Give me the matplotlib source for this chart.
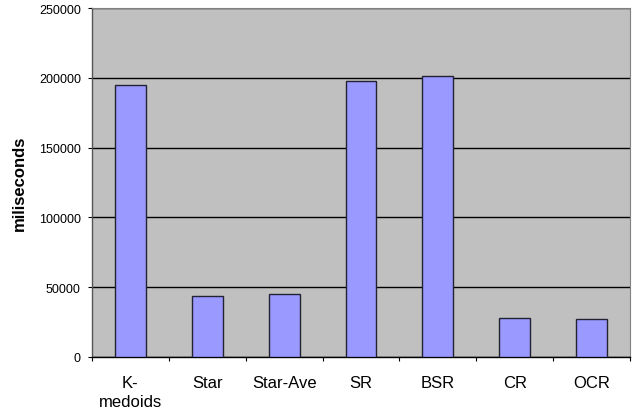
import matplotlib
matplotlib.use("Agg")
import matplotlib.pyplot as plt
import numpy as np

categories = ["K-\nmedoids", "Star", "Star-Ave", "SR", "BSR", "CR", "OCR"]
times_ms = [195000, 44000, 45000, 197500, 201000, 28200, 27000]
y_ticks = [0, 50000, 100000, 150000, 200000, 250000]

plt.rcParams["font.family"] = ["Liberation Sans", "DejaVu Sans"]

fig = plt.figure(figsize=(6.33, 4.14), dpi=100)
ax = fig.add_axes([92 / 633, 1 - 358 / 414, (630 - 92) / 633, (358 - 9) / 414])
ax.set_facecolor("#c0c0c0")

x = np.arange(len(categories))
ax.bar(x, times_ms, width=0.4, color="#9999ff", edgecolor="#222233",
       linewidth=1.0, zorder=3)

ax.set_xlim(-0.5, len(categories) - 0.5)
ax.set_ylim(0, 250000)
ax.set_yticks(y_ticks)
ax.set_yticklabels([str(v) for v in y_ticks], fontsize=9)
ax.yaxis.grid(True, color="black", linewidth=1.0, zorder=1)
ax.set_axisbelow(True)

# category labels sit between the boundary ticks
ax.set_xticks(np.arange(len(categories) + 1) - 0.5)
ax.set_xticklabels([])
ax.set_xticks(x, minor=True)
ax.set_xticklabels(categories, minor=True, fontsize=12, linespacing=1.3)
ax.tick_params(axis="x", which="minor", length=0, pad=13)
ax.tick_params(axis="x", which="major", length=3, direction="out", color="black")
ax.tick_params(axis="y", length=3, direction="out", color="black", pad=5)

for side in ("top", "right"):
    ax.spines[side].set_color("#808080")
ax.spines["left"].set_color("#555555")
ax.spines["bottom"].set_color("black")
for side in ("left", "bottom"):
    ax.spines[side].set_linewidth(1.0)

ax.set_ylabel("miliseconds", fontsize=12, fontweight="bold", labelpad=9)

fig.savefig("out.png", dpi=100, facecolor="white")
